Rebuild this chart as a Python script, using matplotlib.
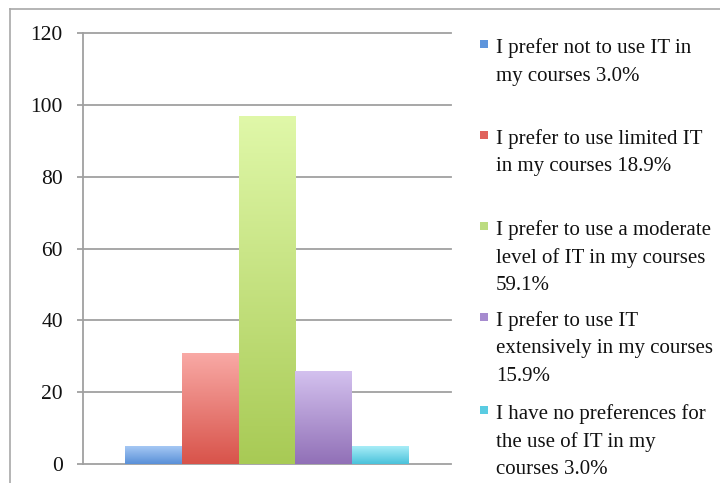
import numpy as np
import matplotlib
matplotlib.use("Agg")
import matplotlib.pyplot as plt
from matplotlib.colors import LinearSegmentedColormap
from matplotlib.patches import Rectangle
from matplotlib.lines import Line2D

labels = [
    "I prefer not to use IT in\nmy courses 3.0%",
    "I prefer to use limited IT\nin my courses 18.9%",
    "I prefer to use a moderate\nlevel of IT in my courses\n59.1%",
    "I prefer to use IT\nextensively in my courses\n15.9%",
    "I have no preferences for\nthe use of IT in my\ncourses 3.0%",
]
counts = [5, 31, 97, 26, 5]
yticks = [0, 20, 40, 60, 80, 100, 120]

top_colors = ["#a6c8f4", "#f9aaa6", "#e0f8a9", "#d4c2ef", "#a8edf7"]
bottom_colors = ["#5990d8", "#d8534a", "#a8ca55", "#9170b7", "#4ac2db"]
key_colors = ["#5e95dc", "#e0625c", "#bcdc80", "#a68bcf", "#5acce2"]

plt.rcParams['font.family'] = ['Liberation Serif', 'DejaVu Serif']

W, H = 720, 483
fig = plt.figure(figsize=(W / 100, H / 100), dpi=100)

# outer frame (only top and left edges visible)
fig.add_artist(Line2D([10 / W, 10 / W], [0, 1 - 9 / H], transform=fig.transFigure,
                      color="#a8a8a8", lw=1.2))
fig.add_artist(Line2D([10 / W, 1], [1 - 9 / H, 1 - 9 / H], transform=fig.transFigure,
                      color="#a8a8a8", lw=1.2))

ax = fig.add_axes([83 / W, (H - 464) / H, (451 - 83) / W, (464 - 33) / H])
pos = np.arange(len(counts)) - (len(counts) - 1) / 2
bars = ax.bar(pos, counts, width=1.0, color="none", edgecolor="none", zorder=3)

grad = np.linspace(0, 1, 256).reshape(-1, 1)
for b, c0, c1 in zip(bars, bottom_colors, top_colors):
    cmap = LinearSegmentedColormap.from_list("g", [c0, c1])
    x0, y0 = b.get_x(), b.get_y()
    im = ax.imshow(grad, cmap=cmap, origin="lower", aspect="auto", zorder=3,
                   extent=[x0, x0 + b.get_width(), y0, y0 + b.get_height()])
    im.set_clip_path(b)

ax.set_xlim(-3.25, 3.25)
ax.set_ylim(0, 120)
ax.set_yticks(yticks)
ax.set_xticks([])
ax.yaxis.grid(True, color="#a0a0a0", lw=1.3, zorder=1)
for ln in ax.get_ygridlines():
    ln.set_clip_on(False)
ax.tick_params(axis="y", length=4.5, width=1.3, color="#a0a0a0", pad=10,
               labelsize=15.5, labelcolor="#111111")
for s in ["top", "right", "bottom"]:
    ax.spines[s].set_visible(False)
ax.spines["left"].set_color("#a0a0a0")
ax.spines["left"].set_linewidth(1.3)
ax.set_facecolor("none")

# legend drawn as text lines beside the plot
first_base = [53, 144, 235, 326, 419]
line_gap = 27.5
for lab, col, yb in zip(labels, key_colors, first_base):
    fig.add_artist(Rectangle((480 / W, 1 - 48 / H - (yb - 53) / H), 8 / W, 8 / H,
                             transform=fig.transFigure, facecolor=col, edgecolor="none"))
    for i, line in enumerate(lab.split("\n")):
        fig.text(496 / W, 1 - (yb + i * line_gap) / H, line, fontsize=15,
                 va="baseline", ha="left", color="#111111")

fig.savefig("out.png", dpi=100)
